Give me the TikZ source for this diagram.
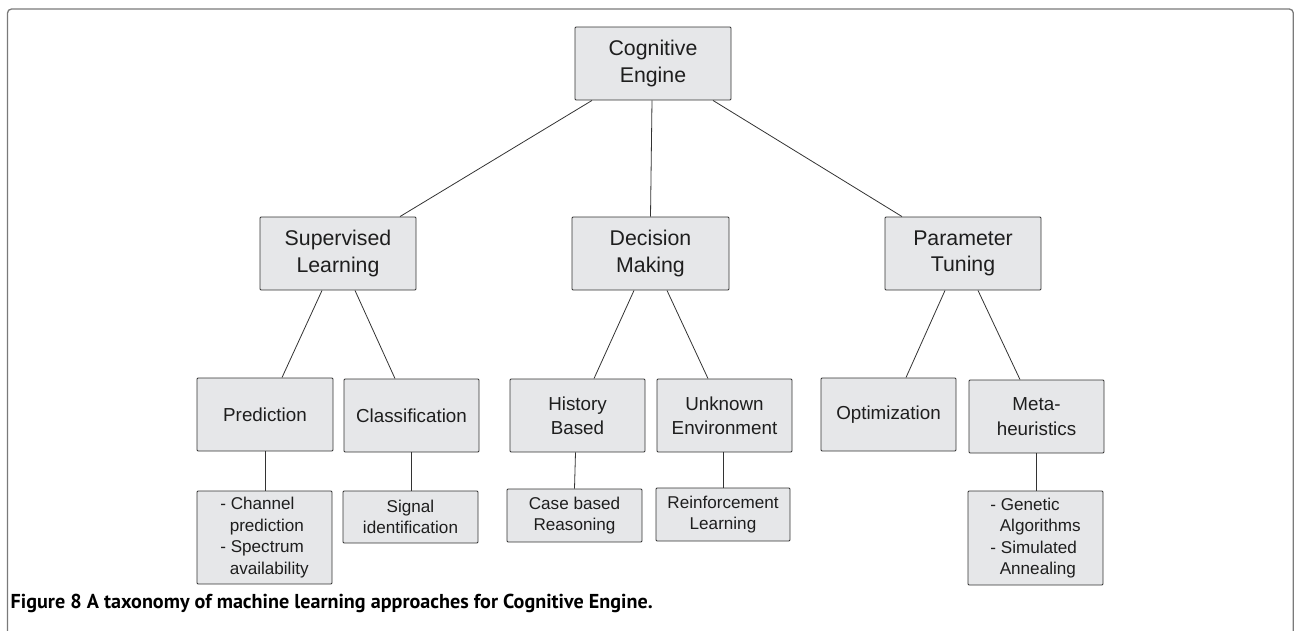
\documentclass[tikz,border=0pt]{standalone}
\usepackage{fontspec}
\setmainfont{Liberation Sans}
\newfontfamily\capfont{PT Sans}
\usetikzlibrary{calc}
\definecolor{boxfill}{HTML}{E6E7E9}
\definecolor{boxline}{HTML}{333333}
\definecolor{txt}{HTML}{1E1E1E}
\definecolor{framec}{HTML}{7A7A7A}
\tikzset{
  box/.style={draw=boxline, fill=boxfill, line width=0.9pt, rounded corners=1pt, inner sep=0pt, text=txt, align=center},
  big/.style={box, font=\fontsize{21.3}{26.5}\selectfont},
  mid/.style={box, font=\fontsize{18.8}{24.3}\selectfont},
  small/.style={box, font=\fontsize{17.1}{21.6}\selectfont},
  conn/.style={draw=boxline, line width=0.8pt},
}
\begin{document}
\begin{tikzpicture}[x=1pt,y=-1pt]
\useasboundingbox (0,0) rectangle (1294,630);
% frame
\draw[framec, line width=1.3pt, rounded corners=4pt] (7.5,631) -- (7.5,9) -- (1293.3,9) -- (1293.3,631);
% level 1
\node[big, minimum width=156pt, minimum height=73pt] (ce) at (653,63.5) {Cognitive\\Engine};
% level 2
\node[big, minimum width=156pt, minimum height=73pt] (sl) at (338,253.5) {Supervised\\Learning};
\node[big, minimum width=157pt, minimum height=73pt] (dm) at (650.5,253.5) {Decision\\Making};
\node[big, minimum width=156pt, minimum height=73pt] (pt) at (963,253.5) {Parameter\\Tuning};
% level 3
\node[mid, minimum width=136pt, minimum height=73pt] (pr) at (265,414.5) {Prediction};
\node[mid, minimum width=135pt, minimum height=73pt] (cl) at (411.5,415.5) {Classification};
\node[mid, minimum width=135pt, minimum height=73pt] (hb) at (577.5,415.5) {History\\Based};
\node[mid, minimum width=135pt, minimum height=73pt] (ue) at (724.5,415.5) {Unknown\\Environment};
\node[mid, minimum width=135pt, minimum height=73pt] (op) at (888.5,414.5) {Optimization};
\node[mid, minimum width=135pt, minimum height=73pt] (mh) at (1036.5,416.5) {Meta-\\heuristics};
% level 4
\node[small, minimum width=135pt, minimum height=93pt, align=left] (ch) at (264.5,537.5)
  {- Channel\\\hspace*{0.55em}prediction\\- Spectrum\\\hspace*{0.55em}availability};
\node[small, minimum width=135pt, minimum height=52pt] (si) at (410.5,517) {Signal\\identification};
\node[small, minimum width=135pt, minimum height=53pt] (cb) at (574.5,515.5) {Case based\\Reasoning};
\node[small, minimum width=134pt, minimum height=53pt] (rl) at (723,514.5) {Reinforcement\\Learning};
\node[small, minimum width=135pt, minimum height=94pt, align=left] (ga) at (1035.5,538)
  {- Genetic\\\hspace*{0.55em}Algorithms\\- Simulated\\\hspace*{0.55em}Annealing};
% connectors
\draw[conn] ([xshift=-61pt]ce.south) -- ([xshift=62pt]sl.north);
\draw[conn] ([xshift=-1pt]ce.south) -- (dm.north);
\draw[conn] ([xshift=60pt]ce.south) -- ([xshift=-61pt]pt.north);
\draw[conn] ([xshift=-16pt]sl.south) -- ([xshift=17pt]pr.north);
\draw[conn] ([xshift=17pt]sl.south) -- ([xshift=-16.5pt]cl.north);
\draw[conn] ([xshift=-16.5pt]dm.south) -- ([xshift=16.5pt]hb.north);
\draw[conn] ([xshift=16.5pt]dm.south) -- ([xshift=-16.5pt]ue.north);
\draw[conn] ([xshift=-18pt]pt.south) -- ([xshift=17.5pt]op.north);
\draw[conn] ([xshift=15pt]pt.south) -- ([xshift=-16.5pt]mh.north);
\draw[conn] (pr.south) -- (pr.south |- ch.north);
\draw[conn] (cl.south) -- (cl.south |- si.north);
\draw[conn] ([xshift=-2pt]hb.south) -- (cb.north);
\draw[conn] ([xshift=-1.5pt]ue.south) -- (rl.north);
\draw[conn] (mh.south) -- (mh.south |- ga.north);
% caption
\node[anchor=west, inner sep=0pt, text=black] (cap) at (10.5,603.5)
  {\resizebox{642pt}{!}{\capfont\bfseries\fontsize{16}{18}\selectfont Figure 8 A taxonomy of machine learning approaches for Cognitive Engine.}};
\end{tikzpicture}
\end{document}
